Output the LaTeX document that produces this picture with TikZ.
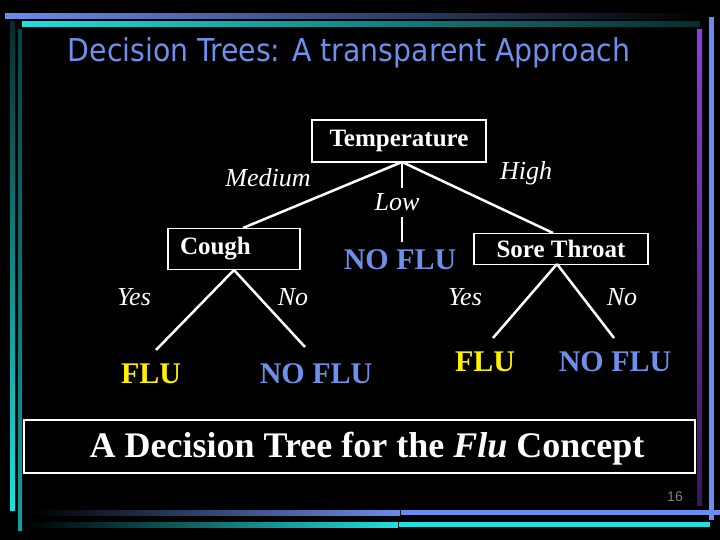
\documentclass[tikz,border=0pt]{standalone}
\usepackage{fontspec}
\setmainfont{Liberation Serif}
\newfontfamily\titlefont{DejaVu Sans Condensed}
\newfontfamily\sansf{Liberation Sans}
\begin{document}
\begin{tikzpicture}[x=1pt,y=-1pt,
  boxn/.style={draw=white,line width=1.5pt,text=white,font=\fontsize{25}{27}\selectfont\bfseries,inner sep=0pt,minimum height=0pt},
  lbl/.style={text=white,font=\fontsize{26}{28}\selectfont\itshape},
  leafy/.style={text=yellow,font=\fontsize{30}{32}\selectfont\bfseries},
  leafb/.style={text=leafblue,font=\fontsize{30}{32}\selectfont\bfseries},
  edge/.style={white,line width=2.5pt}]
\definecolor{leafblue}{HTML}{6E8FEA}
\definecolor{barblue}{HTML}{6A8CEC}
\definecolor{barcyan}{HTML}{1FE0E0}
\definecolor{barpurple}{HTML}{8A3FE0}
\fill[black] (0,0) rectangle (720,540);
\useasboundingbox (0,0) rectangle (720,540);
% decorative bars
\shade[left color=barblue,right color=black] (5,14) rectangle (705,19);
\shade[left color=barcyan,right color=black!80!barcyan] (22,22) rectangle (700,27);
\shade[top color=black!80!barcyan,bottom color=barcyan] (10,22) rectangle (15,510);
\shade[top color=black!70!barcyan,bottom color=barcyan!70!black] (18,30) rectangle (22,530);
\shade[top color=barpurple,bottom color=black!60!barpurple] (697,30) rectangle (702,505);
\fill[barblue] (709,17) rectangle (714,520);
\shade[left color=black,right color=barblue] (30,510) rectangle (400,515);
\fill[barblue] (401,510) rectangle (720,515);
\shade[left color=black,right color=barcyan] (25,522) rectangle (398,527);
\fill[barcyan] (399,522) rectangle (710,527);
% title
\node[text=leafblue,font=\titlefont\fontsize{31.5}{33}\selectfont] (title) at (349,53) {Decision Trees: A transparent Approach};
% nodes
\node[boxn,minimum width=174pt,minimum height=42pt] (temp) at (399,141) {Temperature};
\node[boxn,minimum width=132pt,minimum height=41pt,text width=108pt,align=left] (cough) at (234,249) {Cough};
\node[boxn,minimum width=174pt,minimum height=31pt] (sore) at (561,249) {Sore Throat};
\node[leafb] (nf1) at (400,260) {NO FLU};
\coordinate (lowtop) at (402,162);
\coordinate (lowbot) at (402,242);
\coordinate (med) at (243,228);
\coordinate (high) at (553,233);
\coordinate (cyl) at (156,350);
\coordinate (cnr) at (305,347);
\coordinate (syl) at (493,338);
\coordinate (snr) at (614,338);
\coordinate (tapex) at (402,162);
\coordinate (capex) at (234,270);
\coordinate (sapex) at (557,264);
\draw[edge] (tapex) -- (med);
\draw[edge] (tapex) -- (high);
\draw[white,line width=1.5pt] (lowtop) -- (402,188);
\draw[white,line width=1.5pt] (402,217) -- (lowbot);
\draw[edge] (capex) -- (cyl);
\draw[edge] (capex) -- (cnr);
\draw[edge] (sapex) -- (syl);
\draw[edge] (sapex) -- (snr);
% labels
\node[lbl] (lmed) at (268,178) {Medium};
\node[lbl] (llow) at (397,202) {Low};
\node[lbl] (lhigh) at (526,173) {High};
\node[lbl] (ly1) at (134,297) {Yes};
\node[lbl] (ln1) at (293,297) {No};
\node[lbl] (ly2) at (465,297) {Yes};
\node[lbl] (ln2) at (622,297) {No};
% leaves
\node[leafy] (f1) at (151,374) {FLU};
\node[leafb] (nf2) at (316,374) {NO FLU};
\node[leafy] (f2) at (485,362) {FLU};
\node[leafb] (nf3) at (615,362) {NO FLU};
% caption
\node[draw=white,line width=1.2pt,minimum width=671pt,minimum height=53pt] (cap) at (359.5,446.5) {};
\node[text=white,font=\fontsize{36}{38}\selectfont\bfseries] (captext) at (367,449) {A Decision Tree for the \textit{Flu} Concept};
\node[text=gray,font=\sansf\fontsize{14}{15}\selectfont] (pg) at (675,497) {16};
\end{tikzpicture}
\end{document}
